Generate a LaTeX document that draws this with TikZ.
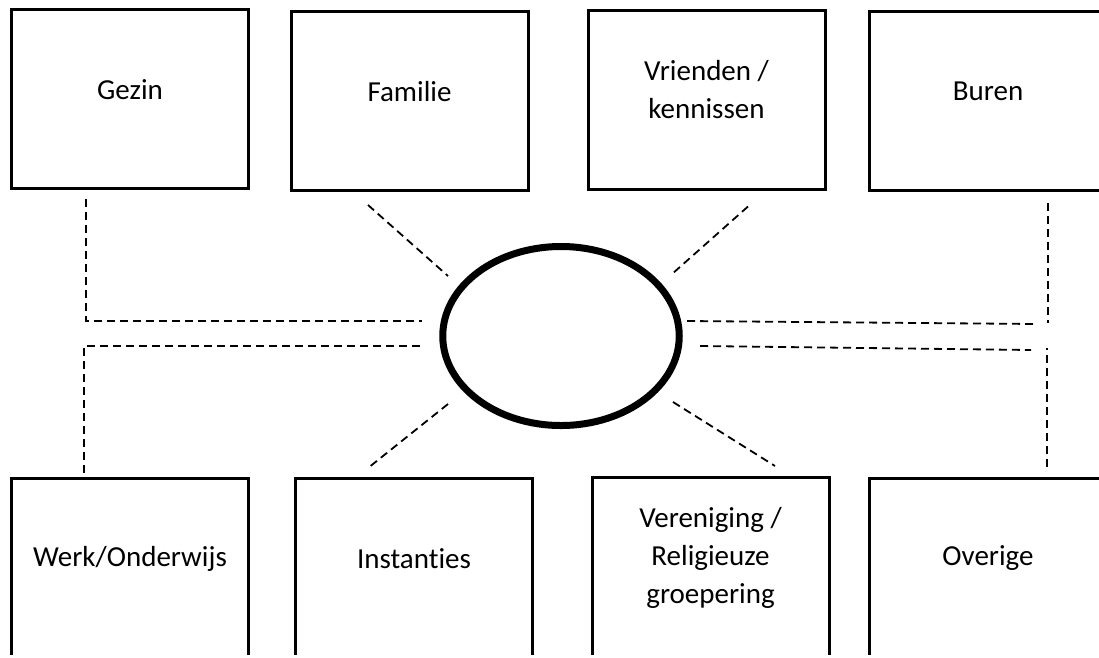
\documentclass[tikz,border=0pt]{standalone}
\usepackage{fontspec}
\setmainfont{Carlito}[Ligatures=CommonOff]
\usetikzlibrary{shapes.geometric}
\tikzset{
  blok/.style={draw,line width=3pt,minimum width=237pt,minimum height=179pt,inner sep=0pt},
  tekst/.style={font=\fontsize{29}{38}\selectfont,align=center,inner sep=0pt},
  kern/.style={draw,ellipse,line width=7pt,minimum width=236.5pt,minimum height=179pt,inner sep=0pt},
  stippel/.style={line width=1.8pt,dash pattern=on 8pt off 5pt}
}
\newcommand\veld[4]{% naam, x, y, tekst
  \node[blok] (#1) at (#2,#3) {};
  \node[tekst] (#1-t) at ([yshift=9.5pt]#1.center) {#4};
}

\begin{document}
\begin{tikzpicture}[x=1pt,y=-1pt]
  \useasboundingbox (0,0) rectangle (1099,657);
  \clip (0,0) rectangle (1099,654.5);

  % bovenste rij
  \veld{gezin}{130}{99}{Gezin}
  \veld{familie}{409.5}{101}{Familie}
  \veld{vrienden}{706.5}{99.5}{Vrienden /\\kennissen}
  \veld{buren}{988}{101}{Buren}

  % onderste rij
  \veld{werk}{130}{568}{Werk/Onderwijs}
  \veld{instanties}{414}{568}{Instanties}
  \veld{vereniging}{710.5}{567}{Vereniging /\\Religieuze\\groepering}
  \veld{overige}{988}{568}{Overige}

  \node[kern] (hub) at (561,336) {};

  \coordinate (buren-h) at (1037,324);
  \coordinate (buren-v) at (1048,323);
  \coordinate (overige-h) at (1031,350);
  \coordinate (overige-v) at (1047,348);

  \draw[stippel] ([xshift=-44pt,yshift=-9pt]gezin.south) |- ([xshift=-139pt,yshift=15pt]hub.center);
  \draw[stippel] ([xshift=-46pt,yshift=4pt]werk.north) |- ([xshift=-141pt,yshift=-10pt]hub.center);
  \draw[stippel] ([xshift=126pt,yshift=15pt]hub.center) -- (buren-h);
  \draw[stippel] ([xshift=60pt,yshift=-11pt]buren.south) -- (buren-v);
  \draw[stippel] ([xshift=139pt,yshift=-10pt]hub.center) -- (overige-h);
  \draw[stippel] ([xshift=59pt,yshift=10pt]overige.north) -- (overige-v);

  \draw[stippel] ([xshift=-41.5pt,yshift=-13pt]familie.south) -- ([xshift=-113pt,yshift=60pt]hub.center);
  \draw[stippel] ([xshift=41.5pt,yshift=-16pt]vrienden.south) -- ([xshift=111pt,yshift=62pt]hub.center);
  \draw[stippel] ([xshift=-113pt,yshift=-68pt]hub.center) -- ([xshift=-46pt,yshift=9pt]instanties.north);
  \draw[stippel] ([xshift=112pt,yshift=-66pt]hub.center) -- ([xshift=64.5pt,yshift=10pt]vereniging.north);

\end{tikzpicture}
\end{document}
